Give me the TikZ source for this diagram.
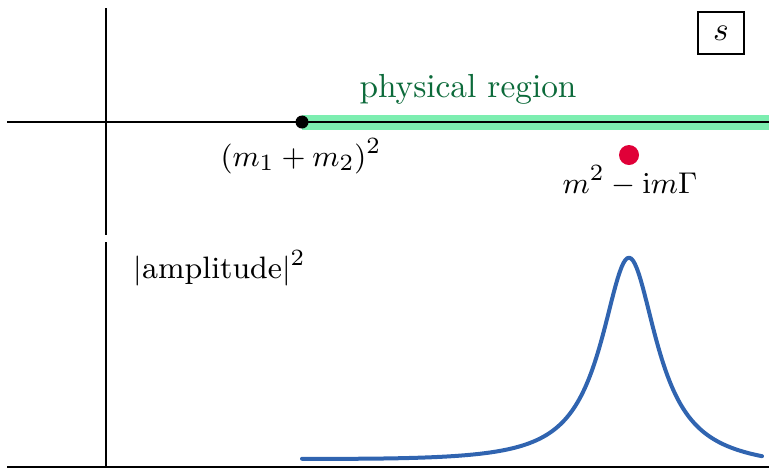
\documentclass[tikz,border=0pt]{standalone}
\usepackage{amsmath}
\definecolor{bandgreen}{RGB}{124,238,176}
\definecolor{textgreen}{RGB}{12,106,58}
\definecolor{polered}{RGB}{224,0,56}
\definecolor{curveblue}{RGB}{48,100,176}
\tikzset{
  axisline/.style={line width=0.8pt, black},
  lbl/.style={inner sep=0pt, anchor=base},
  mathlbl/.style={inner sep=0pt, font=\fontsize{9.3}{11}\selectfont},
}
\begin{document}
\begin{tikzpicture}[x=0.3pt,y=-0.3pt]
\useasboundingbox (0,0) rectangle (769,468);
% coordinates
\coordinate (tl) at (7,122);
\coordinate (tr) at (769,122);
\coordinate (vt) at (106,8);
\coordinate (vb) at (106,235);
\coordinate (lvt) at (106,242);
\coordinate (lvb) at (106,468);
\coordinate (bl) at (7,467);
\coordinate (br) at (769,467);
\coordinate (thr) at (302,122);
% physical region band
\draw[bandgreen, line width=4.5pt] (thr) -- (tr);
% axes
\draw[axisline] (tl) -- (tr);
\draw[axisline] (vt) -- (vb);
\draw[axisline] (lvt) -- (lvb);
\draw[axisline] (bl) -- (br);
% threshold dot
\node[circle, fill=black, inner sep=0pt, minimum size=3.9pt] (dot) at (thr) {};
% pole
\node[circle, fill=polered, inner sep=0pt, minimum size=6pt] (pole) at (629,155) {};
% labels
\node[lbl, text=textgreen] (phys) at (468,97) {physical region};
\node[mathlbl, anchor=base] (thrlbl) at (301,166) {$(m_1+m_2)^2$};
\node[mathlbl, anchor=base] (polelbl) at (630,193) {$m^2-\mathrm{i}m\Gamma$};
\node[mathlbl, anchor=base west] (amp) at (133,278) {$|\text{amplitude}|^2$};
\node[draw, line width=0.6pt, minimum width=14pt, minimum height=12.6pt, inner sep=0pt] (sbox) at (721,33) {$s$};
% resonance curve
\draw[curveblue, line width=1.2pt, line cap=round, line join=round]
  plot[domain=302:762, samples=240]
  (\x, {467 - (209*0.1156/(((\x-629)/100)^2+0.1156) + 6 - 8*(\x-302)/460)});
\end{tikzpicture}
\end{document}
